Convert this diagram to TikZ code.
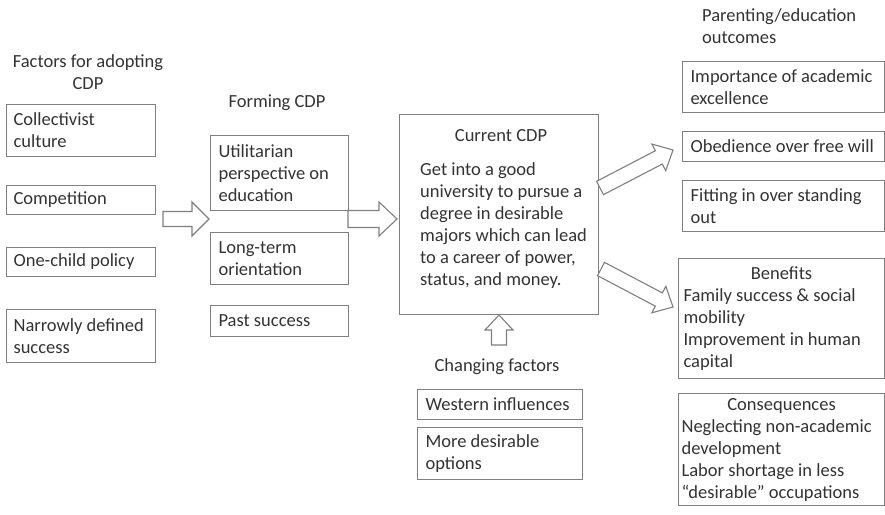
\documentclass[tikz,border=0pt]{standalone}
\usepackage{fontspec}
\setmainfont{Carlito}
\usepackage{tikz}
\usetikzlibrary{calc}
\usepackage{xcolor}
\definecolor{boxgray}{HTML}{7F7F7F}
\definecolor{txtgray}{HTML}{333333}

\begin{document}
\begin{tikzpicture}[x=1pt,y=-1pt,
  every node/.style={text=txtgray,font=\fontsize{18.5}{22}\selectfont},
  cbox/.style={draw=boxgray,line width=1.1pt,anchor=north west,align=flush left,inner xsep=7pt,inner ysep=2pt},
  head/.style={inner sep=0pt,align=center},
  fat/.style={draw=boxgray,line width=1.1pt,fill=white,line join=miter}]
  \useasboundingbox (0,0) rectangle (885,514);
  % factors for adopting
  \node[head] (factors) at (88,72) {Factors for adopting\\CDP};
  \node[cbox,text width=135pt,minimum height=52pt] (collect) at (6,104) {Collectivist\\culture};
  \node[cbox,text width=135pt,minimum height=29pt] (compet) at (6,185) {Competition};
  \node[cbox,text width=135pt,minimum height=29pt] (onechild) at (6,247) {One-child policy};
  \node[cbox,text width=135pt,minimum height=53pt] (narrow) at (6,309) {Narrowly defined\\success};
  % forming
  \node[head] (forming) at (277,103) {Forming CDP};
  \node[cbox,inner xsep=8pt,text width=122pt,minimum height=75pt] (util) at (210,135) {Utilitarian\\perspective on\\education};
  \node[cbox,inner xsep=8pt,text width=122pt,minimum height=52pt] (longterm) at (210,232) {Long-term\\orientation};
  \node[cbox,inner xsep=8pt,text width=122pt,minimum height=31pt] (past) at (210,305) {Past success};
  % current
  \node[cbox,text width=185pt,minimum height=200pt] (current) at (399,114) {};
  \node[head] (curtitle) at (501,136) {Current CDP};
  \node[inner sep=0pt,align=left,anchor=west] (curtext) at (420,226) {Get into a good\\university to pursue a\\degree in desirable\\majors which can lead\\to a career of power,\\status, and money.};
  % changing factors
  \node[head] (changing) at (497,367) {Changing factors};
  \node[cbox,inner xsep=8pt,text width=149pt,minimum height=30pt] (western) at (417,389) {Western influences};
  \node[cbox,inner xsep=8pt,text width=149pt,minimum height=52pt] (moredes) at (417,427) {More desirable\\options};
  % outcomes
  \node[inner sep=0pt,align=left,anchor=west] (parent) at (702,26) {Parenting/education\\outcomes};
  \node[cbox,inner xsep=8pt,text width=186pt,minimum height=51pt] (importance) at (682,61) {Importance of academic\\excellence};
  \node[cbox,inner xsep=8pt,text width=186pt,minimum height=30pt] (obed) at (682,131) {Obedience over free will};
  \node[cbox,inner xsep=8pt,text width=186pt,minimum height=51pt] (fitting) at (682,180) {Fitting in over standing\\out};
  \node[cbox,inner xsep=5pt,text width=196pt,minimum height=120pt] (benefits) at (678,258) {{\centering Benefits\par}Family success \& social\\mobility\\Improvement in human\\capital};
  \node[cbox,inner xsep=3pt,text width=200pt,minimum height=112pt] (conseq) at (678,393) {{\centering Consequences\par}Neglecting non-academic\\development\\Labor shortage in less\\``desirable'' occupations};
  % block arrows
  \coordinate (fa1) at (163,219);
  \coordinate (ta1) at (209,219);
  \coordinate (fa2) at (348,219);
  \coordinate (ta2) at (397,219);
  \coordinate (fa3) at (600,188);
  \coordinate (ta3) at (673,150);
  \coordinate (fa4) at (601,269);
  \coordinate (ta4) at (673,307);
  \coordinate (fa5) at (499,345);
  \coordinate (ta5) at (499,315);
  \foreach \s/\t/\w/\h/\l in {fa1/ta1/7.5pt/17pt/17pt,fa2/ta2/8.5pt/17pt/18pt,fa3/ta3/7.5pt/15pt/16pt,fa4/ta4/7.5pt/15pt/16pt,fa5/ta5/7.5pt/14pt/15pt}{
    \coordinate (hb) at ($(\t)!\l!(\s)$);
    \draw[fat] ($(\s)!\w!90:(\t)$) -- ($(hb)!\w!-90:(\s)$) -- ($(hb)!\h!-90:(\s)$) -- (\t)
      -- ($(hb)!\h!90:(\s)$) -- ($(hb)!\w!90:(\s)$) -- ($(\s)!\w!-90:(\t)$) -- cycle;
  }
\end{tikzpicture}
\end{document}
